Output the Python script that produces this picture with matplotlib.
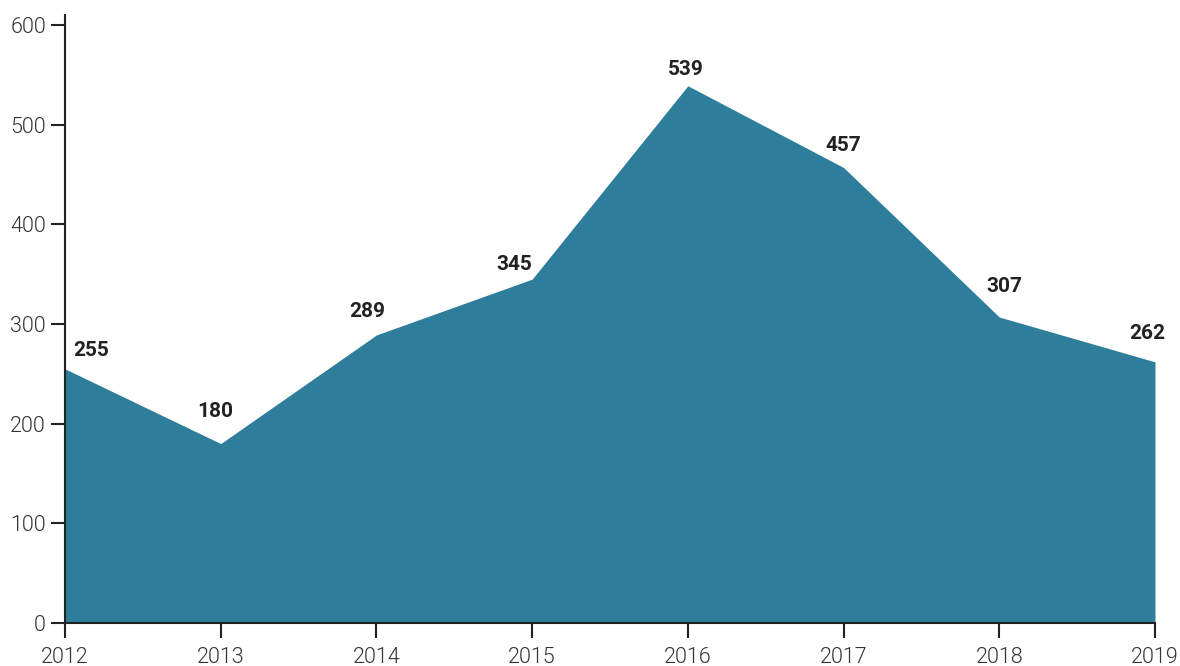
import matplotlib
matplotlib.use("Agg")
import matplotlib.pyplot as plt

years = [2012, 2013, 2014, 2015, 2016, 2017, 2018, 2019]
values = [255, 180, 289, 345, 539, 457, 307, 262]
y_ticks = [0, 100, 200, 300, 400, 500, 600]

# label offsets from the point, in pixels (dx, dy)
label_offsets = [(26, 18), (-5, 32), (-9, 23), (-18, 15), (-2, 16), (0, 22), (5, 31), (-8, 28)]

plt.rcParams['font.family'] = ['Roboto', 'DejaVu Sans']

fig = plt.figure(figsize=(11.8, 6.66), dpi=100)
ax = fig.add_axes([65 / 1180, 43 / 666, 1090 / 1180, 608 / 666])

area_color = '#2e7d9b'
ax.fill_between(years, values, 0, color=area_color, linewidth=0)

ax.set_xlim(years[0], years[-1])
ax.set_ylim(0, 610)
ax.set_xticks(years)
ax.set_xticklabels([str(y) for y in years])
ax.set_yticks(y_ticks)

for s in ['top', 'right']:
    ax.spines[s].set_visible(False)
for s in ['left', 'bottom']:
    ax.spines[s].set_color('#222222')
    ax.spines[s].set_linewidth(1.5)
    ax.spines[s].set_zorder(5)

ax.tick_params(axis='y', length=10, width=1.5, color='#222222', pad=3.6,
               labelsize=15.5, labelcolor='#333333')
ax.tick_params(axis='x', length=11, width=1.5, color='#222222', pad=6,
               labelsize=15.5, labelcolor='#333333')
for lbl in ax.get_xticklabels() + ax.get_yticklabels():
    lbl.set_fontweight(300)

for x, v, (dx, dy) in zip(years, values, label_offsets):
    ax.annotate(str(v), (x, v), xytext=(dx, dy), textcoords='offset pixels',
                ha='center', va='center', fontsize=15, fontweight='bold',
                color='#222222', annotation_clip=False)

fig.savefig('out.png', dpi=100)
